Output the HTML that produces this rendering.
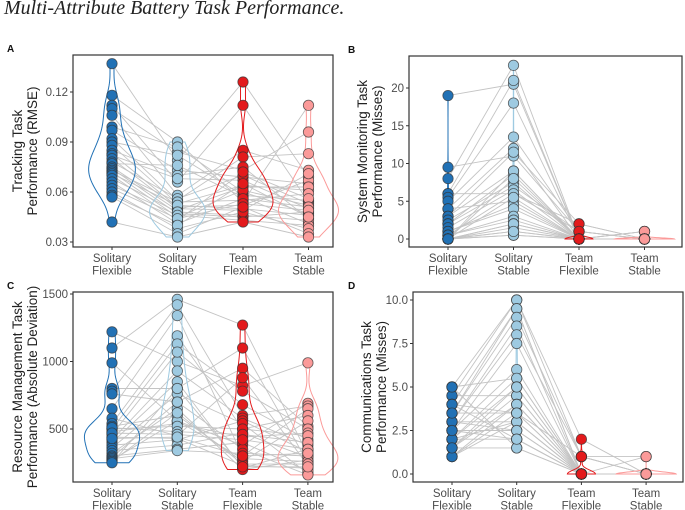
<!DOCTYPE html>
<html><head><meta charset="utf-8">
<style>
html,body{margin:0;padding:0;background:#fff;width:685px;height:510px;overflow:hidden}
svg{display:block}
text{font-family:"Liberation Sans",Arial,sans-serif}
</style></head>
<body>
<svg id="chart" width="685" height="510" viewBox="0 0 685 510" xmlns="http://www.w3.org/2000/svg">
<text x="4" y="14" style="font-family:'Liberation Serif',serif;font-style:italic;font-size:20px" fill="#222">Multi-Attribute Battery Task Performance.</text>
</svg>
<script>
const categories = ["Solitary\nFlexible","Solitary\nStable","Team\nFlexible","Team\nStable"];
const colors = ["#2171b5","#9ecae1","#e31a1c","#fb9a99"];

// Panel A: Tracking RMSE
const trackSF = [0.137,0.118,0.112,0.110,0.106,0.099,0.097,0.092,0.090,0.088,0.085,0.083,0.082,0.080,0.078,0.077,0.075,0.074,0.073,0.072,0.071,0.070,0.068,0.066,0.064,0.062,0.060,0.058,0.057,0.042];
const trackSS = [0.079,0.090,0.066,0.084,0.058,0.087,0.073,0.055,0.082,0.053,0.070,0.051,0.068,0.050,0.056,0.076,0.049,0.047,0.054,0.045,0.052,0.043,0.048,0.041,0.046,0.044,0.038,0.040,0.035,0.033];
const trackTF = [0.126,0.054,0.112,0.073,0.085,0.060,0.069,0.081,0.058,0.064,0.075,0.052,0.067,0.049,0.070,0.057,0.063,0.045,0.055,0.061,0.050,0.072,0.046,0.056,0.043,0.053,0.048,0.065,0.051,0.042];
const trackTS = [0.069,0.112,0.054,0.096,0.073,0.047,0.065,0.083,0.055,0.061,0.044,0.067,0.050,0.071,0.053,0.041,0.063,0.048,0.059,0.052,0.046,0.056,0.043,0.051,0.040,0.049,0.038,0.045,0.035,0.033];
const ticksA = [0.03,0.06,0.09,0.12];
const tickLabelsA = ["0.03","0.06","0.09","0.12"];

// Panel B: System monitoring misses
const monSF = [19,9.5,8,6,6,5.5,5,4,4,3,3,2.5,2,2,1.5,1,1,0.5,0.5,0.5,0,0,0,0,0,0,0,0,0,0];
const monSS = [20.5,11,23,6,21,18,13.5,5,12,11.5,9,7.5,8.5,7,6.5,4.5,4,3,2.5,6,2,9,1.5,1,5.5,0.5,2,0.5,1,8];
const monTF = [0,1,0,2,0,0,1,0,0,2,0,0,0,1,0,0,0,0,0,1,0,0,0,0,0,0,0,0,0,0];
const monTS = [0,0,1,0,0,0,0,0,1,0,0,0,0,0,0,0,1,0,0,0,0,0,0,0,0,0,0,0,0,0];
const ticksB = [0,5,10,15,20];
const tickLabelsB = ["0","5","10","15","20"];

// Panel C: Resource management deviation
const resSF = [1220,1100,990,800,780,760,650,580,540,520,500,480,460,440,420,400,380,360,340,320,300,290,280,270,260,250,500,510,470,430];
const resSS = [1000,1460,560,800,1420,700,1340,450,1190,600,1130,540,1070,430,930,850,420,760,380,650,350,700,340,560,620,800,520,480,460,440];
const resTF = [820,1270,380,1100,600,950,300,880,500,260,780,440,680,230,580,210,560,540,470,200,400,350,320,280,240,220,500,460,420,300];
const resTS = [990,310,690,250,670,520,650,230,600,560,500,470,420,210,380,350,330,170,290,270,190,160,300,260,240,220,450,400,350,320];
const ticksC = [500,1000,1500];
const tickLabelsC = ["500","1000","1500"];

// Panel D: Communications misses
const comSF = [5,5,4.5,4.5,4,4,3.5,3.5,3,3,3,2.5,2.5,2.5,2,2,2,1.5,1.5,1.5,1,1,1,2,3,4,5,1.5,2.5,3.5];
const comSS = [5.5,10,4.5,10,9.5,3.5,9.5,9,3,8.5,8,2.5,7.5,6,2,5.5,5,4.5,1.5,4,4,3.5,3,3,2.5,2,1.5,5,2,3.5];
const comTF = [0,2,0,1,0,0,0,1,0,0,1,0,0,0,0,0,0,0,0,0,0,1,0,0,0,0,0,0,0,0];
const comTS = [0,0,0,1,0,0,0,0,0,0,0,0,1,0,0,0,0,0,0,0,0,0,0,0,0,0,0,0,0,0];
const ticksD = [0,2.5,5,7.5,10];
const tickLabelsD = ["0.0","2.5","5.0","7.5","10.0"];

const NS = "http://www.w3.org/2000/svg";
const svg = document.getElementById("chart");
function mk(tag, attrs, parent){
  const e = document.createElementNS(NS, tag);
  for (const k in attrs) e.setAttribute(k, attrs[k]);
  (parent||svg).appendChild(e);
  return e;
}
function quantile(sorted, q){
  const pos = (sorted.length - 1) * q, lo = Math.floor(pos), hi = Math.ceil(pos);
  return sorted[lo] + (sorted[hi] - sorted[lo]) * (pos - lo);
}
function kde(vals){
  const n = vals.length;
  const s = vals.slice().sort((a,b)=>a-b);
  const mean = s.reduce((a,b)=>a+b,0)/n;
  const sd = Math.sqrt(s.reduce((a,b)=>a+(b-mean)*(b-mean),0)/(n-1));
  const iqr = quantile(s,0.75) - quantile(s,0.25);
  let lo = Math.min(sd, iqr/1.34);
  if (!(lo > 0)) lo = sd || Math.abs(s[0]) || 1;
  const bw = 0.9 * lo * Math.pow(n, -0.2);
  const mn = s[0], mx = s[n-1];
  const steps = 80, dens = [];
  for (let k = 0; k <= steps; k++){
    const v = mx > mn ? mn + (mx - mn) * k / steps : mn;
    let t = 0;
    for (const a of s) t += Math.exp(-0.5 * ((v - a)/bw) ** 2);
    dens.push([v, t / (n * bw * Math.sqrt(2*Math.PI))]);
  }
  return {dens, mn, mx, bw};
}

function panel(p){
  const g = mk("g", {});
  
  
  const y = v => p.y0 - (v - p.v0) / (p.v1 - p.v0) * (p.y0 - p.y1);
  const xs = [0,1,2,3].map(i => p.left + p.xo + i * p.dx);
  const x = i => xs[i];
  const series = p.series;
  const lg = mk("g", {}, g);
  
  
  for (let s = 0; s < series[0].length; s++){
    let d = "";
    for (let c = 0; c < 4; c++) d += (c ? "L" : "M") + x(c) + " " + y(series[c][s]);
    const l = mk("path", {d: d, fill: "none", stroke: "#c4c4c4", "stroke-width": 0.9}, lg);
    
    
  }
  // violins, area-scaled across the panel
  const ks = series.map(kde);
  let md = 0;
  ks.forEach(k => k.dens.forEach(d => { if (d[1] > md) md = d[1]; }));
  for (let c = 0; c < 4; c++){
    const dens = ks[c].dens;
    const W = p.vw;
    let right = "", left = "";
    if (ks[c].mx === ks[c].mn){
      // degenerate: flat
      const hw = dens[0][1]/md*W;
      right = "M" + (x(c)+hw) + " " + y(ks[c].mn);
      left = "L" + (x(c)-hw) + " " + y(ks[c].mn);
    } else {
      dens.forEach((d,k) => { right += (k ? "L" : "M") + (x(c) + d[1]/md*W) + " " + y(d[0]); });
      for (let k = dens.length-1; k >= 0; k--) left += "L" + (x(c) - dens[k][1]/md*W) + " " + y(dens[k][0]);
    }
    const vp = mk("path", {d: right + left + "Z", fill: "none", stroke: colors[c], "stroke-width": 1}, g);
    
    
  }
  for (let c = 0; c < 4; c++){
    for (const v of series[c]){
      const pt = mk("circle", {cx: x(c), cy: y(v), r: 5.2, fill: colors[c], stroke: "#333", "stroke-opacity": 0.75, "stroke-width": 0.8}, g);
      
      
    }
  }
  const fr = mk("rect", {x: p.left, y: p.top, width: p.right - p.left, height: p.bottom - p.top, fill: "none", stroke: "#333", "stroke-width": 1.2}, g);
  
  
  p.ticks.forEach((t,i) => {
    mk("line", {x1: p.left - 3, x2: p.left, y1: y(t), y2: y(t), stroke: "#333"}, g);
    const tl = mk("text", {x: p.left - 5, y: y(t) + 4, "text-anchor": "end", "font-size": 11.5, fill: "#4d4d4d"}, g);
    tl.textContent = p.tickLabels[i];
    
    
  });
  categories.forEach((cat,c) => {
    mk("line", {x1: x(c), x2: x(c), y1: p.bottom, y2: p.bottom + 3, stroke: "#333"}, g);
    cat.split("\n").forEach((s,k) => {
      const t = mk("text", {x: x(c), y: p.bottom + 15 + k * 12.5, "text-anchor": "middle", "font-size": 11.5, fill: "#4d4d4d"}, g);
      t.textContent = s;
      
      
    });
  });
  const cy = (p.top + p.bottom) / 2;
  p.title.forEach((s,k) => {
    const t = mk("text", {x: 0, y: 0, transform: "translate(" + (p.titleX + k * 15) + "," + cy + ") rotate(-90)", "text-anchor": "middle", "font-size": 13.5, fill: "#222"}, g);
    t.textContent = s;
    
    
  });
  const lt = mk("text", {x: p.letterX, y: p.top - 3, "font-size": 10, "font-weight": "bold", fill: "#111"}, g);
  lt.textContent = p.letter;
  
  
}

panel({letter:"A", letterX:7, left:73, right:333, top:55, bottom:247, xo:39, dx:65.5, v0:0.03, v1:0.12, y0:242, y1:92, ticks:ticksA, tickLabels:tickLabelsA, series:[trackSF,trackSS,trackTF,trackTS], vw:30, title:["Tracking Task","Performance (RMSE)"], titleX:22});
panel({letter:"B", letterX:348, left:409, right:682, top:56, bottom:247, xo:39, dx:65.5, v0:0, v1:20, y0:239, y1:88, ticks:ticksB, tickLabels:tickLabelsB, series:[monSF,monSS,monTF,monTS], vw:30, title:["System Monitoring Task","Performance (Misses)"], titleX:367});
panel({letter:"C", letterX:7, left:73, right:333, top:292, bottom:482, xo:39, dx:65.3, v0:500, v1:1500, y0:429, y1:294, ticks:ticksC, tickLabels:tickLabelsC, series:[resSF,resSS,resTF,resTS], vw:30, title:["Resource Management Task","Performance (Absolute Deviation)"], titleX:22});
panel({letter:"D", letterX:348, left:413, right:683, top:292, bottom:482, xo:39, dx:64.7, v0:0, v1:10, y0:474, y1:300, ticks:ticksD, tickLabels:tickLabelsD, series:[comSF,comSS,comTF,comTS], vw:30, title:["Communications Task","Performance (Misses)"], titleX:371});
</script>
</body></html>
